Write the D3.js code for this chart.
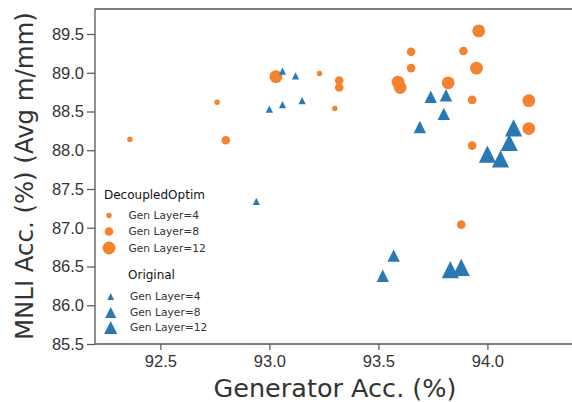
<!DOCTYPE html>
<html>
<head>
<meta charset="utf-8">
<script src="https://cdn.jsdelivr.net/npm/d3@7"></script>
<style>
  body { margin: 0; background: #fff; }
  svg { font-family: "DejaVu Sans", sans-serif; display: block; }
</style>
</head>
<body>
<div id="chart"></div>
<script>
// Generator acc (x), MNLI acc (y), gen layer
const decoupledX = [92.36, 92.76, 93.23, 93.30,
  92.80, 93.32, 93.32, 93.65, 93.89, 93.65, 93.93, 93.93, 93.88,
  93.03, 93.96, 93.95, 93.59, 93.60, 93.82, 94.19, 94.19];
const decoupledY = [88.14, 88.62, 88.99, 88.54,
  88.13, 88.90, 88.81, 89.27, 89.28, 89.06, 88.65, 88.06, 87.04,
  88.95, 89.54, 89.06, 88.88, 88.81, 88.87, 88.64, 88.28];
const decoupledLayer = [4, 4, 4, 4,
  8, 8, 8, 8, 8, 8, 8, 8, 8,
  12, 12, 12, 12, 12, 12, 12, 12];

const originalX = [93.06, 93.12, 93.00, 93.06, 93.15, 92.94,
  93.74, 93.81, 93.80, 93.69, 93.57, 93.52,
  94.12, 94.10, 94.00, 94.06, 93.83, 93.88];
const originalY = [89.02, 88.96, 88.53, 88.59, 88.64, 87.34,
  88.69, 88.71, 88.47, 88.30, 86.64, 86.38,
  88.29, 88.10, 87.95, 87.89, 86.46, 86.49];
const originalLayer = [4, 4, 4, 4, 4, 4,
  8, 8, 8, 8, 8, 8,
  12, 12, 12, 12, 12, 12];

const layers = [4, 8, 12];
const xTicks = [92.5, 93.0, 93.5, 94.0];
const yTicks = [85.5, 86.0, 86.5, 87.0, 87.5, 88.0, 88.5, 89.0, 89.5];

const orange = '#f5822e';
const blue = '#2a79b5';

const width = 572, height = 402;
const m = {left: 95, right: 580, top: 9, bottom: 344};

const x = d3.scaleLinear().domain([92.2, 94.4]).range([m.left, m.left + 2.2 * 218]);
const y = d3.scaleLinear().domain([85.5, 89.8]).range([m.bottom, m.bottom - 4.3 * 77.5]);

const circleR = d3.scaleOrdinal().domain(layers).range([2.7, 4.3, 6.4]);
const triHalf = d3.scaleOrdinal().domain(layers).range([3.6, 6.2, 8.6]);

function tri(cx, cy, h) {
  return `M${cx},${cy - h}L${cx + h},${cy + h}L${cx - h},${cy + h}Z`;
}

const svg = d3.select('#chart').append('svg')
  .attr('width', width).attr('height', height);

// frame (right side runs off the picture)
svg.append('path')
  .attr('d', `M${m.right},${m.top}H${m.left}V${m.bottom}H${m.right}`)
  .attr('fill', 'none').attr('stroke', '#555').attr('stroke-width', 1.3);

const xAxis = svg.append('g').attr('transform', `translate(0,${m.bottom})`)
  .call(d3.axisBottom(x).tickValues(xTicks).tickFormat(d3.format('.1f')).tickSize(6).tickPadding(5));
const yAxis = svg.append('g').attr('transform', `translate(${m.left},0)`)
  .call(d3.axisLeft(y).tickValues(yTicks).tickFormat(d3.format('.1f')).tickSize(8).tickPadding(3));
[xAxis, yAxis].forEach(a => {
  a.select('.domain').remove();
  a.selectAll('line').attr('stroke', '#555').attr('stroke-width', 1.2);
  a.selectAll('text').attr('fill', '#333').style('font-size', '16.5px');
});

// points
const dec = decoupledX.map((v, i) => ({x: v, y: decoupledY[i], layer: decoupledLayer[i]}));
const orig = originalX.map((v, i) => ({x: v, y: originalY[i], layer: originalLayer[i]}));

svg.append('g').selectAll('circle').data(dec).join('circle')
  .attr('cx', d => x(d.x)).attr('cy', d => y(d.y))
  .attr('r', d => circleR(d.layer)).attr('fill', orange);

svg.append('g').selectAll('path').data(orig).join('path')
  .attr('d', d => tri(x(d.x), y(d.y), triHalf(d.layer)))
  .attr('fill', blue);

// axis labels
svg.append('text').attr('x', 335).attr('y', 397)
  .attr('text-anchor', 'middle').attr('fill', '#333')
  .style('font-size', '25.5px').text('Generator Acc. (%)');
svg.append('text').attr('transform', 'translate(33,340) rotate(-90)')
  .attr('fill', '#333').style('font-size', '24.4px').text('MNLI Acc. (%) (Avg m/mm)');

// legend
const lg = svg.append('g');
lg.append('text').attr('x', 104).attr('y', 199).attr('fill', '#111')
  .style('font-size', '12px').text('DecoupledOptim');
const decRows = [219, 235, 251.5];
layers.forEach((l, i) => {
  lg.append('circle').attr('cx', 109).attr('cy', decRows[i] - 3.5)
    .attr('r', circleR(l)).attr('fill', orange);
  lg.append('text').attr('x', 128.5).attr('y', decRows[i]).attr('fill', '#333')
    .style('font-size', '10.7px').text('Gen Layer=' + l);
});
lg.append('text').attr('x', 128).attr('y', 279).attr('fill', '#111')
  .style('font-size', '12px').text('Original');
const origRows = [300, 316, 331];
const legTri = [3.4, 5.6, 6.6];
layers.forEach((l, i) => {
  lg.append('path').attr('d', tri(110.7, origRows[i] - 3.5, legTri[i])).attr('fill', blue);
  lg.append('text').attr('x', 130).attr('y', origRows[i]).attr('fill', '#333')
    .style('font-size', '10.7px').text('Gen Layer=' + l);
});
</script>
</body>
</html>
